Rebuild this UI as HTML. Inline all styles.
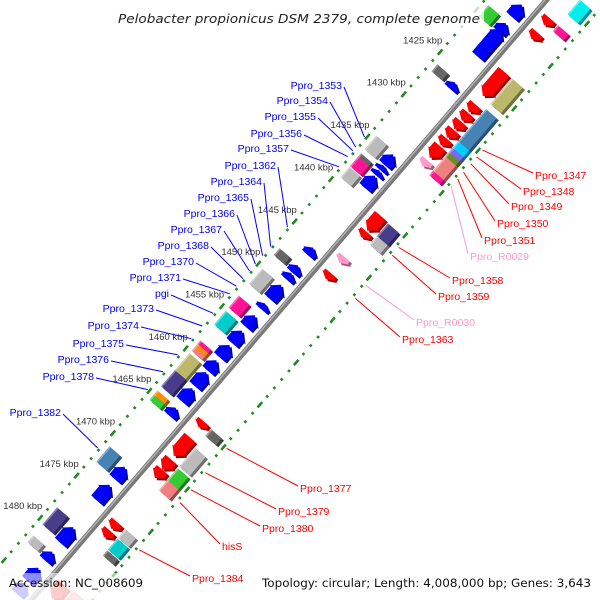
<!DOCTYPE html>
<html><head><meta charset="utf-8"><style>
html,body{margin:0;padding:0;background:#fff;width:600px;height:600px;overflow:hidden}
svg{display:block}
</style></head><body>
<svg id="chart" width="600" height="600" viewBox="0 0 600 600" xmlns="http://www.w3.org/2000/svg">
<g id="tracks"></g>
<g id="marks"></g>
<rect x="112" y="6" width="372" height="24" fill="#fff" opacity="0.75"/>
<text x="118" y="23" font-family="DejaVu Sans, Liberation Sans, sans-serif" font-style="italic" font-size="12.5" fill="#222" textLength="362" lengthAdjust="spacingAndGlyphs">Pelobacter propionicus DSM 2379, complete genome</text>
<rect x="0" y="586" width="600" height="14" fill="#fff" opacity="0.8"/>
<rect x="0" y="573" width="600" height="13" fill="#fff" opacity="0.55"/>
<text x="9" y="587" font-family="DejaVu Sans, Liberation Sans, sans-serif" font-size="11.5" fill="#111" textLength="134" lengthAdjust="spacingAndGlyphs">Accession: NC_008609</text>
<text x="262" y="587" font-family="DejaVu Sans, Liberation Sans, sans-serif" font-size="11.5" fill="#111" textLength="329" lengthAdjust="spacingAndGlyphs">Topology: circular; Length: 4,008,000 bp; Genes: 3,643</text>
<g id="labels"></g>
</svg>
<script>
// ---- data (kbp) ----
const tickKbp = [1425,1430,1435,1440,1445,1450,1455,1460,1465,1470,1475,1480];
const tickLabels = ["1425 kbp","1430 kbp","1435 kbp","1440 kbp","1445 kbp","1450 kbp","1455 kbp","1460 kbp","1465 kbp","1470 kbp","1475 kbp","1480 kbp"];
// forward-strand CDS (blue)
const fwdStart = [1417.0,1419.2,1419.9,1426.2,1434.7,1436.0,1436.6,1437.2,1445.7,1447.8,1448.7,1450.1,1452.3,1453.7,1455.5,1457.2,1459.0,1460.4,1462.3,1464.6,1471.6,1473.7,1478.7,1481.6,1483.5,1485.3];
const fwdEnd   = [1418.4,1420.2,1423.1,1426.9,1435.9,1436.5,1437.1,1438.6,1446.5,1448.6,1449.4,1451.7,1452.9,1455.0,1456.9,1458.6,1460.2,1462.0,1463.8,1465.5,1473.0,1475.5,1480.5,1482.6,1485.0,1486.5];
// reverse-strand CDS (red / pink)
const revStart = [1416.3,1418.0,1422.6,1426.5,1427.5,1428.5,1429.5,1430.5,1431.4,1433.1,1439.6,1441.5,1444.5,1446.4,1463.9,1465.8,1468.4,1469.6,1475.8,1476.8,1483.2];
const revEnd   = [1417.1,1418.8,1425.5,1427.4,1428.4,1429.4,1430.4,1431.3,1432.8,1433.8,1441.4,1442.2,1445.2,1447.1,1464.6,1468.0,1469.6,1470.6,1476.6,1477.6,1484.8];
const revColor = ["#ff0000","#ff0000","#ff0000","#ff0000","#ff0000","#ff0000","#ff0000","#ff0000","#ff0000","#ff99cc","#ff0000","#ff0000","#ff99cc","#ff0000","#ff0000","#ff0000","#ff0000","#ff0000","#ff0000","#ff0000","#ff0000"];
// COG category boxes, forward side
const cogFStart = [1419.0,1426.0,1434.4,1436.5,1436.9,1438.1,1447.7,1450.1,1453.3,1455.1,1458.6,1459.0,1459.4,1460.1,1462.1,1464.5,1465.0,1471.1,1478.3,1481.6];
const cogFEnd   = [1420.3,1426.8,1436.0,1436.9,1438.0,1439.3,1448.5,1451.9,1454.7,1456.7,1459.0,1459.4,1459.8,1462.1,1464.0,1465.0,1465.6,1472.9,1480.3,1482.4];
const cogFColor = ["#33cc33","#666666","#bbbbbb","#666666","#ff1493","#bbbbbb","#666666","#bbbbbb","#ff1493","#00cccc","#ff1493","#ff8c00","#f08080","#bdb76b","#483d8b","#ff8c00","#33cc33","#4682b4","#483d8b","#bbbbbb"];
// COG category boxes, reverse side
const cogRStart = [1413.3,1416.3,1422.6,1426.2,1430.0,1430.8,1431.3,1431.8,1433.5,1439.7,1441.2,1464.0,1466.2,1468.6,1470.0,1475.8,1476.9,1478.3,1483.0,1484.5];
const cogREnd   = [1415.0,1417.0,1425.6,1430.0,1430.8,1431.3,1431.8,1433.5,1434.0,1441.2,1442.2,1464.8,1468.4,1470.0,1471.2,1476.8,1478.2,1478.9,1484.3,1486.0];
const cogRColor = ["#00eeee","#ff1493","#bdb76b","#4682b4","#00ccff","#7b68ee","#6b8e23","#f08080","#ff1493","#483d8b","#bbbbbb","#666666","#bbbbbb","#33cc33","#f08080","#bbbbbb","#00cccc","#666666","#f08080","#00cccc"];
// labels
const leftNames = ["Ppro_1353","Ppro_1354","Ppro_1355","Ppro_1356","Ppro_1357","Ppro_1362","Ppro_1364","Ppro_1365","Ppro_1366","Ppro_1367","Ppro_1368","Ppro_1370","Ppro_1371","pgi","Ppro_1373","Ppro_1374","Ppro_1375","Ppro_1376","Ppro_1378","Ppro_1382"];
const leftKbp = [1435.2,1436.4,1436.8,1437.5,1438.7,1445.8,1448.1,1449.2,1450.2,1451.0,1451.9,1452.8,1453.7,1456.0,1457.5,1459.0,1460.9,1462.9,1465.0,1471.9];
const rightNames = ["Ppro_1347","Ppro_1348","Ppro_1349","Ppro_1350","Ppro_1351","Ppro_R0029","Ppro_1358","Ppro_1359","Ppro_R0030","Ppro_1363","Ppro_1377","Ppro_1379","Ppro_1380","hisS","Ppro_1384"];
const rightKbp = [1429.2,1430.0,1430.8,1431.8,1432.6,1433.5,1440.7,1441.6,1445.2,1446.7,1464.4,1467.3,1469.3,1470.8,1476.4];
const rightColor = ["#ff0000","#ff0000","#ff0000","#ff0000","#ff0000","#ff99cc","#ff0000","#ff0000","#ff99cc","#ff0000","#ff0000","#ff0000","#ff0000","#ff0000","#ff0000"];
// label text layout (pixels)
const leftTextX = [342,328,316,302,289,276,262,249,235,222,209,194,181,169,154,139,124,109,94,61];
const leftTextY = [85,100,116,133,148,165,181,197,213,229,245,261,277,293,308,325,343,359,376,412];
const rightTextX = [535,523,511,497,484,470,452,438,416,402,300,278,262,222,192];
const rightTextY = [175,191,206,223,240,256,280,296,322,339,488,511,528,546,578];

// ---- axis: kbp + perpendicular offset -> pixel ----
const K0=1425, X0=475, Y0=82, UX=-7.27, UY=8.47, NX=0.759, NY=0.651;
function P(k,o){return [X0+(k-K0)*UX+o*NX, Y0+(k-K0)*UY+o*NY];}
function pts(a){return a.map(p=>p[0].toFixed(1)+','+p[1].toFixed(1)).join(' ');}
const NS='http://www.w3.org/2000/svg';
function mk(tag,attrs,parent){const e=document.createElementNS(NS,tag);for(const a in attrs)e.setAttribute(a,attrs[a]);parent.appendChild(e);return e;}
function shade(hex,f){const n=parseInt(hex.slice(1),16);let r=n>>16,g=(n>>8)&255,b=n&255;
 if(f<1){r*=f;g*=f;b*=f;}else{r=r+(255-r)*(f-1);g=g+(255-g)*(f-1);b=b+(255-b)*(f-1);}
 return 'rgb('+Math.round(r)+','+Math.round(g)+','+Math.round(b)+')';}

const tracks=document.getElementById('tracks'), marks=document.getElementById('marks'), labels=document.getElementById('labels');

// backbone
{const a=P(1408,0.8),b=P(1492,0.8);
 const l2=mk('line',{x1:a[0],y1:a[1],x2:b[0],y2:b[1],stroke:'#7a7a7a',"stroke-width":5.5},tracks);
 
 
 const a2=P(1408,-0.3),b2=P(1492,-0.3);
 const l3=mk('line',{x1:a2[0],y1:a2[1],x2:b2[0],y2:b2[1],stroke:'#b0b0b0',"stroke-width":1.5},tracks);
 
 }

// dotted tracks
function dotMark(k,o,len,name){
 const hl=len/2/11.16, hw=1.3;
 const poly=[P(k-hl,o-hw),P(k+hl,o-hw),P(k+hl,o+hw),P(k-hl,o+hw)];
 const e=mk('polygon',{points:pts(poly),fill:'#1e8c1e'},tracks);
 
 }
for(let k=1408;k<=1492;k++){dotMark(k,-46,k%5===0?7:2.6,(k%5===0)?'inner-tick':'inner-dot');}
for(let k=1408.5;k<=1492;k++){dotMark(k,47,((k-1419.5)%5===0)?7:2.6,'outer-dot');}
tickKbp.forEach((k,i)=>{const p=P(k+0.2,-67);
 const t=mk('text',{x:p[0].toFixed(1),y:(p[1]+3.3).toFixed(1),"text-anchor":"middle","font-family":"Liberation Sans, sans-serif","font-size":"9.5",fill:'#333'},tracks);
 t.textContent=tickLabels[i];
 
 });

// shapes
const SH=[2.2,2.2];
function drawPoly(poly,color,name){
 const s=mk('polygon',{points:pts(poly.map(p=>[p[0]+SH[0],p[1]+SH[1]])),fill:shade(color,0.6)},marks);
 
 
 const m=mk('polygon',{points:pts(poly),fill:color},marks);
 
 }
function box(k1,k2,o1,o2,color,name){
 drawPoly([P(k1,o1),P(k2,o1),P(k2,o2),P(k1,o2)],color,name);
 const h=mk('polygon',{points:pts([P(k1,o1),P(k2,o1),P(k2,o1+1.6),P(k1,o1+1.6)]),fill:shade(color,1.35)},marks);
 
 }
function arrow(k1,k2,o1,o2,color,headAtStart,name){
 const h=Math.min(0.7,(k2-k1)*0.6), m=(o1+o2)/2;
 let poly;
 if(headAtStart) poly=[P(k1,m),P(k1+h,o1-1.5),P(k1+h,o1),P(k2,o1),P(k2,o2),P(k1+h,o2),P(k1+h,o2+1.5)];
 else poly=[P(k2,m),P(k2-h,o2+1.5),P(k2-h,o2),P(k1,o2),P(k1,o1),P(k2-h,o1),P(k2-h,o1-1.5)];
 drawPoly(poly,color,name);}

fwdStart.forEach((s,i)=>arrow(s,fwdEnd[i],-22,-8,'#0000ff',true,'forward-cds'));
revStart.forEach((s,i)=>arrow(s,revEnd[i],8,22,revColor[i],false,'reverse-cds'));
cogFStart.forEach((s,i)=>box(s,cogFEnd[i],-40,-26,cogFColor[i],'forward-cog-box'));
cogRStart.forEach((s,i)=>box(s,cogREnd[i],26,40,cogRColor[i],'reverse-cog-box'));

// labels
leftNames.forEach((n,i)=>{const p=P(leftKbp[i],-48);
 const l=mk('line',{x1:leftTextX[i]+2,y1:leftTextY[i]+2,x2:p[0].toFixed(1),y2:p[1].toFixed(1),stroke:'#0000ff',"stroke-width":1},labels);
 
 
 const t=mk('text',{x:leftTextX[i],y:leftTextY[i]+4,"text-anchor":"end","font-family":"Liberation Sans, sans-serif","font-size":"10.5",fill:'#0000ff'},labels);
 t.textContent=n;
 
 });
rightNames.forEach((n,i)=>{const p=P(rightKbp[i],50);
 const l=mk('line',{x1:p[0].toFixed(1),y1:p[1].toFixed(1),x2:rightTextX[i]-2,y2:rightTextY[i]-2,stroke:rightColor[i],"stroke-width":1},labels);
 
 
 const t=mk('text',{x:rightTextX[i],y:rightTextY[i]+4,"text-anchor":"start","font-family":"Liberation Sans, sans-serif","font-size":"10.5",fill:rightColor[i]},labels);
 t.textContent=n;
 
 });
</script>
</body></html>
